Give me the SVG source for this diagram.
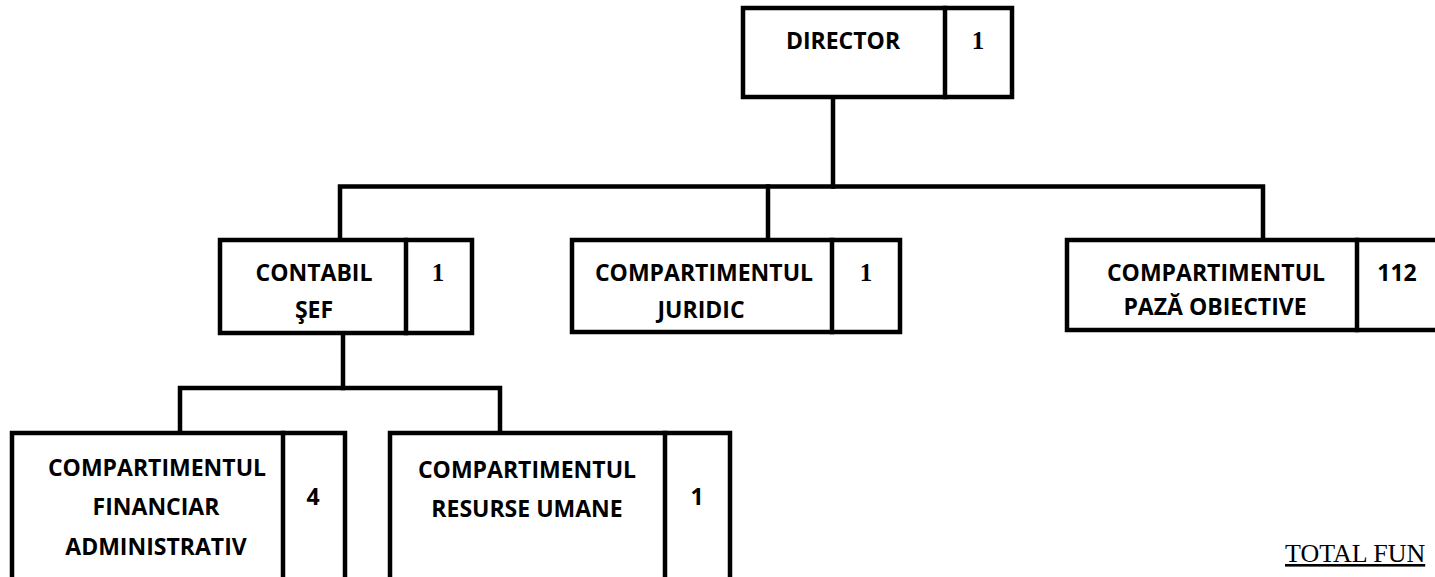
<svg xmlns="http://www.w3.org/2000/svg" width="1435" height="577" viewBox="0 0 1435 577">
<style>
.box{fill:#fff;stroke:#000;stroke-width:4.5}
.ln{fill:none;stroke:#000;stroke-width:4.5;stroke-linecap:square}
.t{font-family:"Open Sans","Liberation Sans",sans-serif;font-weight:700;font-size:23px;fill:#000;text-anchor:middle}
.n{font-family:"Liberation Serif","Times New Roman",serif;font-weight:700;font-size:25px;fill:#000;text-anchor:middle}
.tot{font-family:"Liberation Serif","Times New Roman",serif;font-size:26px;fill:#000;text-decoration:underline}
</style>
<rect width="1435" height="577" fill="#fff"/>
<g id="connectors">
<path class="ln" d="M833 97V186.5"/>
<path class="ln" d="M340 240V186.5H1263V240"/>
<path class="ln" d="M768 186.5V240"/>
<path class="ln" d="M343 333V388"/>
<path class="ln" d="M180 433V388H500V433"/>
</g>
<g id="director">
<rect class="box" x="743" y="8" width="269" height="89"/>
<line class="ln" x1="945" y1="8" x2="945" y2="97"/>
<text class="t" x="843" y="49">DIRECTOR</text>
<text class="n" x="978" y="49">1</text>
</g>
<g id="contabil">
<rect class="box" x="220" y="240" width="252" height="93"/>
<line class="ln" x1="406" y1="240" x2="406" y2="333"/>
<text class="t" x="314" y="281">CONTABIL</text>
<text class="t" x="314" y="318">ŞEF</text>
<text class="n" x="438" y="281">1</text>
</g>
<g id="juridic">
<rect class="box" x="572" y="240" width="328" height="92"/>
<line class="ln" x1="832" y1="240" x2="832" y2="332"/>
<text class="t" x="704" y="281">COMPARTIMENTUL</text>
<text class="t" x="701" y="318">JURIDIC</text>
<text class="n" x="866" y="281">1</text>
</g>
<g id="paza">
<rect class="box" x="1067" y="240" width="380" height="90"/>
<line class="ln" x1="1357" y1="240" x2="1357" y2="330"/>
<text class="t" x="1216" y="281">COMPARTIMENTUL</text>
<text class="t" x="1215" y="315">PAZĂ OBIECTIVE</text>
<text class="t" x="1397" y="281">112</text>
</g>
<g id="financiar">
<rect class="box" x="12" y="433" width="333" height="160"/>
<line class="ln" x1="283" y1="433" x2="283" y2="593"/>
<text class="t" x="157" y="476">COMPARTIMENTUL</text>
<text class="t" x="156" y="515">FINANCIAR</text>
<text class="t" x="156" y="555">ADMINISTRATIV</text>
<text class="t" x="313" y="505">4</text>
</g>
<g id="resurse">
<rect class="box" x="390" y="433" width="340" height="160"/>
<line class="ln" x1="665" y1="433" x2="665" y2="593"/>
<text class="t" x="527" y="478">COMPARTIMENTUL</text>
<text class="t" x="527" y="517">RESURSE UMANE</text>
<text class="t" x="697" y="505">1</text>
</g>
<text class="tot" x="1285" y="562">TOTAL FUN</text>
</svg>
